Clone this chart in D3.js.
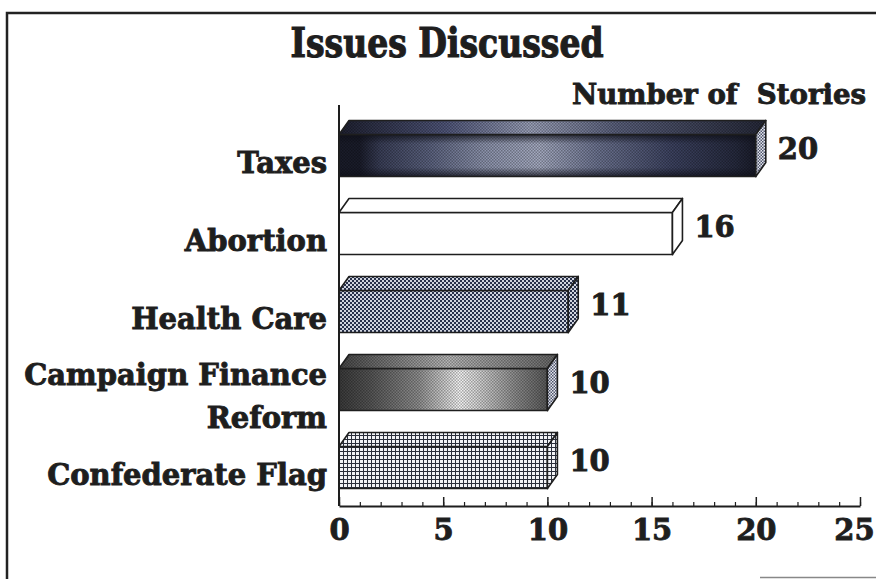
<!DOCTYPE html>
<html>
<head>
<meta charset="utf-8">
<script src="https://cdn.jsdelivr.net/npm/d3@7"></script>
<style>
  html, body { margin: 0; padding: 0; background: #fff; }
  svg { display: block; }
  text { font-family: "DejaVu Serif", serif; font-weight: bold; fill: #1e1e1e; stroke: #1e1e1e; stroke-width: 0.9px; }
</style>
</head>
<body>
<svg id="chart" width="876" height="579"></svg>
<script>
// ---- data ----
const categories = ["Taxes", "Abortion", "Health Care", "Campaign Finance Reform", "Confederate Flag"];
const labelLines = [["Taxes"], ["Abortion"], ["Health Care"], ["Campaign Finance", "Reform"], ["Confederate Flag"]];
const values = [20, 16, 11, 10, 10];
const xTickLabels = [0, 5, 10, 15, 20, 25];
const fillStyles = ["taxes", "abortion", "health", "campaign", "flag"];
const titleText = "Issues Discussed";
const axisTitle = "Number of  Stories";

const W = 876, H = 579;
const svg = d3.select("#chart");
const defs = svg.append("defs");

// ---- patterns & gradients ----
function linGrad(id, stops, vertical) {
  const g = defs.append("linearGradient").attr("id", id)
    .attr("x1", 0).attr("y1", 0).attr("x2", vertical ? 0 : 1).attr("y2", vertical ? 1 : 0);
  stops.forEach(s => g.append("stop").attr("offset", s[0]).attr("stop-color", s[1]).attr("stop-opacity", s[2] === undefined ? 1 : s[2]));
}
linGrad("taxesGrad", [[0, "#1a1c2a"], [0.05, "#1a1c2a"], [0.1, "#3a3f58"], [0.22, "#5c6380"], [0.35, "#8c93ac"], [0.48, "#a4aac0"], [0.62, "#6c7390"], [0.8, "#3c4260"], [0.95, "#262a3e"], [1, "#1a1c2a"]]);
linGrad("taxesTop", [[0, "#1e2030"], [0.25, "#50567a"], [0.45, "#9aa0b8"], [0.65, "#5a607c"], [1, "#252838"]]);
linGrad("vshade", [[0, "#0e0f18", 0.75], [0.22, "#0e0f18", 0], [0.78, "#0e0f18", 0], [1, "#0e0f18", 0.75]], true);
linGrad("campGrad", [[0, "#3a3a3a"], [0.15, "#555"], [0.38, "#8e8e8e"], [0.58, "#f4f4f4"], [0.66, "#d8d8d8"], [0.85, "#8a8a8a"], [1, "#5a5a5a"]]);
linGrad("campTop", [[0, "#444"], [0.5, "#b8b8b8"], [1, "#666"]]);

function checker(id, bg, fg, size) {
  const p = defs.append("pattern").attr("id", id).attr("patternUnits", "userSpaceOnUse")
    .attr("width", size * 2).attr("height", size * 2);
  p.append("rect").attr("width", size * 2).attr("height", size * 2).attr("fill", bg);
  p.append("rect").attr("width", size).attr("height", size).attr("fill", fg);
  p.append("rect").attr("x", size).attr("y", size).attr("width", size).attr("height", size).attr("fill", fg);
}
checker("healthPat", "#d0d4de", "#27304a", 2);
checker("darkDots", "none", "rgba(0,0,0,0.3)", 1.5);
checker("lightDots", "#e6e8ee", "#4e546c", 1.5);
checker("greyDots", "#d8d8d8", "#3a3a3a", 1.5);

const grid = defs.append("pattern").attr("id", "gridPat").attr("patternUnits", "userSpaceOnUse")
  .attr("width", 4).attr("height", 4);
grid.append("rect").attr("width", 4).attr("height", 4).attr("fill", "#f2f3f6");
grid.append("path").attr("d", "M3.5 0V4M0 3.5H4").attr("stroke", "#2a2e3a").attr("stroke-width", 1);

// ---- scales ----
const x = d3.scaleLinear().domain([0, 25]).range([339, 860]);
const y = d3.scaleBand().domain(categories).range([116.5, 506.5]).paddingInner(0.46).paddingOuter(0.23);
const dx = 10, dy = 14;
const axisY = y.range()[1] - 0.5;
const idx = d => categories.indexOf(d);

// ---- frame ----
svg.append("path").attr("d", `M7,${H} V13 H${W}`).attr("fill", "none").attr("stroke", "#222").attr("stroke-width", 2.5);
svg.append("path").attr("d", `M760,577.5 H${W}`).attr("stroke", "#888").attr("stroke-width", 1.5);

// ---- title ----
svg.append("text").attr("x", 447).attr("y", 57).attr("text-anchor", "middle")
  .attr("textLength", 313).attr("lengthAdjust", "spacingAndGlyphs")
  .style("font-size", "41px").style("stroke-width", "1.1px")
  .style("font-family", "'DejaVu Serif Condensed', 'DejaVu Serif', serif")
  .text(titleText);

svg.append("text").attr("x", 866).attr("y", 104).attr("text-anchor", "end")
  .attr("textLength", 294).attr("lengthAdjust", "spacingAndGlyphs")
  .style("font-size", "28px").attr("xml:space", "preserve")
  .text(axisTitle);

// ---- bars ----
const bars = svg.append("g").selectAll("g").data(categories).join("g");
const x0 = x(0);
function frontPath(d) { const i = idx(d), yt = y(d), yb = yt + y.bandwidth(), x1 = x(values[i]); return `M${x0},${yt}H${x1}V${yb}H${x0}Z`; }
function topPath(d) { const i = idx(d), yt = y(d), x1 = x(values[i]); return `M${x0},${yt}L${x0 + dx},${yt - dy}H${x1 + dx}L${x1},${yt}Z`; }
function rightPath(d) { const i = idx(d), yt = y(d), yb = yt + y.bandwidth(), x1 = x(values[i]); return `M${x1},${yt}L${x1 + dx},${yt - dy}V${yb - dy}L${x1},${yb}Z`; }

const frontFill = { taxes: "url(#taxesGrad)", abortion: "#ffffff", health: "url(#healthPat)", campaign: "url(#campGrad)", flag: "url(#gridPat)" };
const topFill = { taxes: "url(#taxesTop)", abortion: "#ffffff", health: "url(#healthPat)", campaign: "url(#campTop)", flag: "url(#gridPat)" };
const rightFill = { taxes: "url(#lightDots)", abortion: "#ffffff", health: "url(#healthPat)", campaign: "url(#lightDots)", flag: "url(#gridPat)" };
const overlay = { taxes: true, abortion: false, health: false, campaign: true, flag: false };
const style = d => fillStyles[idx(d)];

bars.append("path").attr("d", frontPath).attr("fill", d => frontFill[style(d)]);
bars.filter(d => overlay[style(d)]).append("path").attr("d", frontPath).attr("fill", "url(#darkDots)");
bars.filter(d => style(d) === "taxes").append("path").attr("d", frontPath).attr("fill", "url(#vshade)");
bars.append("path").attr("d", frontPath).attr("fill", "none").attr("stroke", "#1e1e1e").attr("stroke-width", 1.6);
bars.append("path").attr("d", topPath).attr("fill", d => topFill[style(d)]);
bars.filter(d => overlay[style(d)]).append("path").attr("d", topPath).attr("fill", "url(#darkDots)");
bars.append("path").attr("d", topPath).attr("fill", "none").attr("stroke", "#1e1e1e").attr("stroke-width", 1.6).attr("stroke-linejoin", "round");
bars.append("path").attr("d", rightPath).attr("fill", d => rightFill[style(d)]).attr("stroke", "#1e1e1e").attr("stroke-width", 1.6).attr("stroke-linejoin", "round");

// value labels
bars.append("text")
  .attr("x", d => x(values[idx(d)]) + dx + 12)
  .attr("y", d => y(d) + 25)
  .style("font-size", "29px")
  .text(d => values[idx(d)]);

// category labels
const labelG = svg.append("g");
categories.forEach((c, i) => {
  const lines = labelLines[i];
  const cy = y(c) + y.bandwidth() / 2 + 17;
  const lh = 43;
  const t = labelG.append("text").attr("text-anchor", "end").style("font-size", "29px");
  lines.forEach((ln, j) => {
    t.append("tspan").attr("x", 327).attr("y", cy - (lines.length - 1) * lh / 2 + j * lh).text(ln);
  });
});

// ---- axes ----
svg.append("line").attr("x1", x0).attr("x2", x0).attr("y1", 105).attr("y2", axisY)
  .attr("stroke", "#1e1e1e").attr("stroke-width", 2);

const gMinor = svg.append("g").attr("transform", `translate(0,${axisY})`)
  .call(d3.axisBottom(x).tickValues(d3.range(0, 26)).tickSize(-4).tickSizeOuter(0).tickFormat(""));
gMinor.select(".domain").attr("stroke", "#1e1e1e").attr("stroke-width", 2);
gMinor.selectAll(".tick line").attr("stroke", "#1e1e1e").attr("stroke-width", 1.2);

const gMajor = svg.append("g").attr("transform", `translate(0,${axisY})`)
  .call(d3.axisBottom(x).tickValues(xTickLabels).tickSize(-9).tickSizeOuter(0).tickPadding(13));
gMajor.select(".domain").remove();
gMajor.selectAll(".tick line").attr("stroke", "#1e1e1e").attr("stroke-width", 1.5);
gMajor.selectAll(".tick text").attr("fill", "#1e1e1e").style("font-size", "29px")
  .style("font-family", "'DejaVu Serif', serif").style("font-weight", "bold")
  .attr("dx", d => d === 25 ? -6 : 0);
</script>
</body>
</html>
